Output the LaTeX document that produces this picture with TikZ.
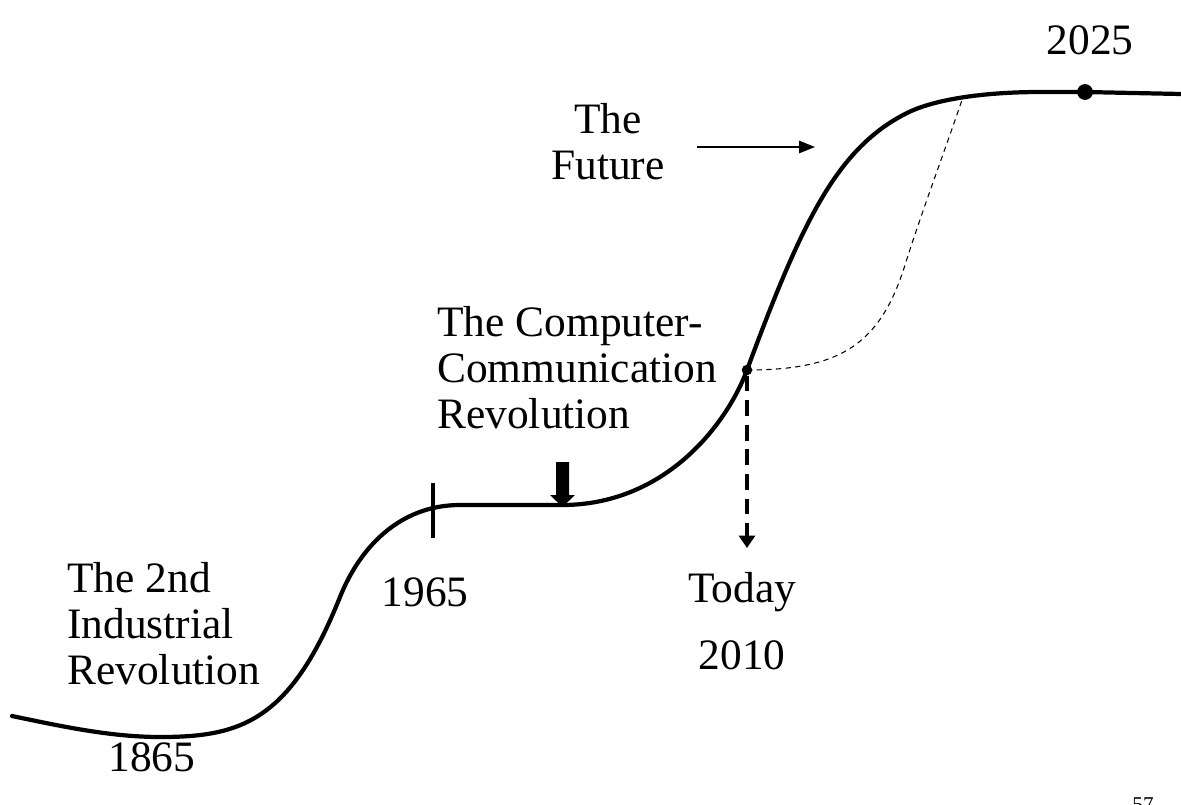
\documentclass[tikz,border=0pt]{standalone}
\usepackage{fontspec}
\setmainfont{Liberation Serif}
\usetikzlibrary{arrows.meta}
\begin{document}
\begin{tikzpicture}[x=0.02cm,y=-0.02cm,
  lbl/.style={font=\fontsize{24.7}{26.2}\selectfont, inner sep=0pt, align=center},
  lbll/.style={font=\fontsize{24.7}{26.2}\selectfont, inner sep=0pt, align=left},
  main/.style={line width=2.4pt, line cap=round},
  dot/.style={circle, fill=black, inner sep=0pt, minimum size=#1}]
\useasboundingbox (0,0) rectangle (1181,805);
\coordinate (today) at (747,370);
\coordinate (p2025) at (1085,92);
% main curve
\draw[main] (12,716) .. controls (60,726) and (110,737) .. (160,737)
  .. controls (240,737) and (290,722) .. (340,597)
  .. controls (360,547) and (400,505) .. (460,505)
  .. controls (500,505) and (530,505) .. (560,505)
  .. controls (665,506) and (727,424) .. (today)
  .. controls (802,221.5) and (837,148) .. (907,113)
  .. controls (937,98) and (990,92) .. (1040,92)
  -- (p2025) -- (1181,94);
% dots
\node[dot=9pt] (d2025) at (p2025) {};
\node[dot=6pt] (dtoday) at (today) {};
% thin dashed alternative curve
\coordinate (altend) at (962,100);
\draw[line width=0.6pt, dash pattern=on 3pt off 2.5pt] (today)
  .. controls (840,370) and (880,345) .. (905,265)
  .. controls (920,217) and (945,150) .. (altend);
% dashed thick arrow
\coordinate (todayend) at (747,548);
\draw[line width=2.3pt, dash pattern=on 9pt off 5pt, -{Triangle[width=9pt,length=7pt]}] (dtoday.south) -- (todayend);
% tick at 1965
\coordinate (tickA) at (433,483);
\coordinate (tickB) at (433,538);
\draw[line width=2.2pt] (tickA) -- (tickB);
% block arrow
\fill (556,462) -- (569,462) -- (569,495) -- (575,495) -- (562.5,507) -- (550,495) -- (556,495) -- cycle;
% thin arrow to the future
\coordinate (fa) at (697,147);
\coordinate (fb) at (815,147);
\draw[line width=0.8pt, -{Triangle[width=7pt,length=9pt]}] (fa) -- (fb);
% labels
\node[lbl] (t2025) at (1090,40) {2025};
\node[lbl] (tfut) at (608,142) {The\\Future};
\node[lbll, anchor=west] (tccr) at (437,368) {The Computer-\\Communication\\Revolution};
\node[lbll, anchor=west] (tind) at (67,624) {The 2nd\\Industrial\\Revolution};
\node[lbl] (t1965) at (425,592) {1965};
\node[lbl] (ttoday) at (742,592) {Today};
\node[lbl] (t2010) at (742,655) {2010};
\node[lbl] (t1865) at (152,757) {1865};
\node[font=\fontsize{12}{14}\selectfont, inner sep=0pt] (pg) at (1143,805) {57};
\end{tikzpicture}
\end{document}
